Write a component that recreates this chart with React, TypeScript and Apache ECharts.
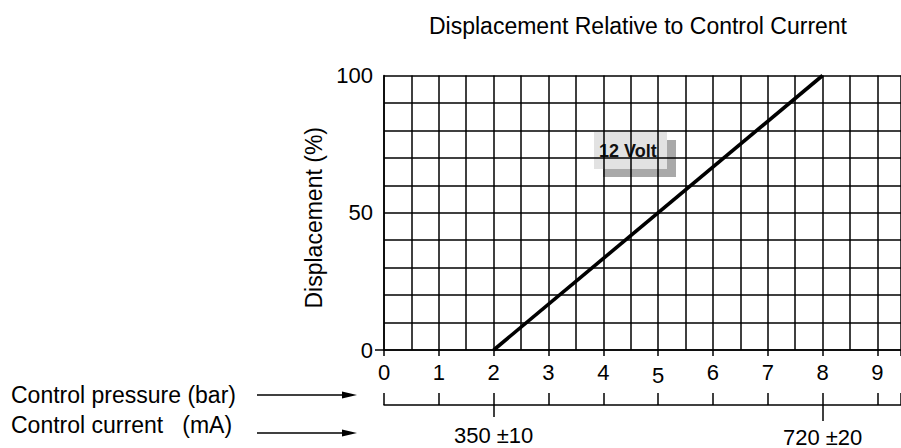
import React, { useEffect, useRef } from "react";
import * as echarts from "echarts";

// ---- data ----
const pressureTicks = [0, 1, 2, 3, 4, 5, 6, 7, 8, 9];
const lineX = [2, 8]; // control pressure (bar)
const lineY = [0, 100]; // displacement (%)
const yLabels = [0, 50, 100];
const currentAt = [2, 8];
const currentLabels = ["350 ±10", "720 ±20"];
const title = "Displacement Relative to Control Current";
const yName = "Displacement (%)";
const rowLabels = ["Control pressure (bar)", "Control current   (mA)"];
const voltLabel = "12 Volt";

const FONT = "'Liberation Sans', Arial, Helvetica, sans-serif";
const XMAX = 9.43;

export default function App() {
  const ref = useRef<HTMLDivElement>(null);
  useEffect(() => {
    if (!ref.current) return;
    const chart = echarts.init(ref.current, null, { renderer: "svg" });
    const black = "#000";
    const gridLine = { show: true, lineStyle: { color: black, width: 1.5 } };
    const baseX = { type: "value", min: 0, max: XMAX, gridIndex: 0 };
    const option: any = {
      animation: false,
      backgroundColor: "#fff",
      textStyle: { fontFamily: FONT },
      title: {
        text: title,
        left: 424,
        top: 9,
        textStyle: { fontFamily: FONT, fontSize: 23, fontWeight: "normal", color: black },
      },
      grid: {
        left: 384,
        right: 0,
        top: 75.5,
        bottom: 98,
        containLabel: false,
        outerBoundsMode: "none",
      },
      xAxis: [
        {
          ...baseX,
          interval: 0.5,
          axisLine: { show: true, onZero: false, lineStyle: { color: black, width: 1.5 } },
          axisTick: { show: false },
          axisLabel: { show: false },
          splitLine: gridLine,
        },
        {
          ...baseX,
          position: "bottom",
          interval: 1,
          axisLine: { show: false, onZero: false },
          axisTick: { show: true, length: 6, lineStyle: { color: black, width: 1.5 } },
          splitLine: { show: false },
          axisLabel: {
            show: true,
            margin: 11,
            color: black,
            fontSize: 22,
            fontFamily: FONT,
            formatter: (v: number) =>
              pressureTicks.includes(v) ? (v === 5 ? "{d|5}" : String(v)) : "",
            rich: { d: { fontSize: 22, fontFamily: FONT, color: black, padding: [3, 0, 0, 0] } },
          },
        },
        {
          ...baseX,
          position: "bottom",
          offset: 55,
          interval: 1,
          axisLine: { show: true, onZero: false, lineStyle: { color: black, width: 1.5 } },
          axisTick: { show: true, inside: true, length: 12, lineStyle: { color: black, width: 1.5 } },
          axisLabel: { show: false },
          splitLine: { show: false },
        },
        ...currentAt.map((v, i) => ({
          ...baseX,
          position: "bottom",
          offset: 55,
          axisLine: { show: false, onZero: false },
          axisTick: {
            show: true,
            length: i === 0 ? 12 : 16,
            customValues: [v],
            lineStyle: { color: black, width: 1.5 },
          },
          axisLabel: {
            show: true,
            customValues: [v],
            margin: i === 0 ? 19 : 21,
            color: black,
            fontSize: 22,
            fontFamily: FONT,
            formatter: () => currentLabels[i],
          },
          splitLine: { show: false },
        })),
      ],
      yAxis: [
        {
          type: "value",
          min: 0,
          max: 100,
          interval: 10,
          axisLine: { show: true, lineStyle: { color: black, width: 1.5 } },
          axisTick: { show: false },
          axisLabel: { show: false },
          splitLine: gridLine,
        },
        {
          type: "value",
          position: "left",
          min: 0,
          max: 100,
          interval: 10,
          name: yName,
          nameLocation: "middle",
          nameGap: 56,
          nameRotate: 90,
          nameTextStyle: { fontFamily: FONT, fontSize: 23, color: black, padding: [0, 10, 0, 0] },
          axisLine: { show: false },
          axisTick: { show: true, length: 9, customValues: [0], lineStyle: { color: black, width: 1.5 } },
          axisLabel: {
            show: true,
            customValues: yLabels,
            margin: 11,
            color: black,
            fontSize: 22,
            fontFamily: FONT,
          },
          splitLine: { show: false },
        },
      ],
      series: [
        {
          type: "line",
          xAxisIndex: 0,
          yAxisIndex: 0,
          data: lineX.map((x, i) => [x, lineY[i]]),
          symbol: "none",
          lineStyle: { color: black, width: 3.6 },
          z: 5,
        },
      ],
      graphic: [
        {
          type: "group",
          z: 10,
          children: [
            { type: "rect", shape: { x: 603, y: 140, width: 73, height: 37 }, style: { fill: "#a9a9a9" } },
            { type: "rect", shape: { x: 594, y: 132, width: 73, height: 37 }, style: { fill: "#e2e2e2" } },
            {
              type: "text",
              x: 599,
              y: 151,
              style: {
                text: voltLabel,
                fontFamily: FONT,
                fontSize: 18,
                fontWeight: "bold",
                fill: "#111",
                verticalAlign: "middle",
                textAlign: "left",
              },
            },
          ],
        },
        ...rowLabels.map((t, i) => ({
          type: "text",
          x: 11,
          y: i === 0 ? 395 : 425,
          style: {
            text: t,
            fontFamily: FONT,
            fontSize: 23,
            fill: black,
            verticalAlign: "middle",
            textAlign: "left",
          },
        })),
        ...[395, 433].flatMap((y) => [
          {
            type: "line",
            shape: { x1: 257, y1: y, x2: 344, y2: y },
            style: { stroke: black, lineWidth: 1.5 },
          },
          {
            type: "polygon",
            shape: { points: [[342, y - 3.5], [357, y], [342, y + 3.5]] },
            style: { fill: black },
          },
        ]),
      ],
    };
    chart.setOption(option);
    return () => chart.dispose();
  }, []);
  return (
    <div
      ref={ref}
      style={{ position: "absolute", left: 0, top: 0, width: 901, height: 448, background: "#fff" }}
    />
  );
}
